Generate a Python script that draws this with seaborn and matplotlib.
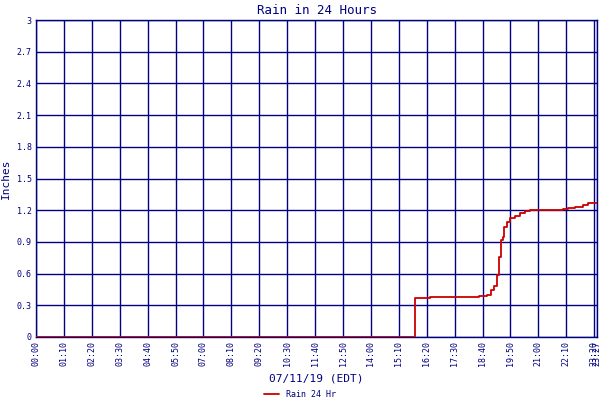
import numpy as np
import pandas as pd
import seaborn as sns
import matplotlib.pyplot as plt

# rain total: minutes after midnight, inches
minutes = [0, 943, 950, 989, 1112, 1131, 1142, 1148, 1157, 1160, 1167, 1170,
           1175, 1181, 1189, 1202, 1214, 1227, 1239, 1322, 1335, 1352, 1372,
           1385, 1407]
rain = [0.0, 0.0, 0.366, 0.375, 0.388, 0.397, 0.445, 0.486, 0.587, 0.76,
        0.918, 0.95, 1.044, 1.091, 1.123, 1.145, 1.17, 1.195, 1.205, 1.215,
        1.225, 1.235, 1.245, 1.265, 1.265]

x_ticks = list(range(0, 1401, 70)) + [1407]
x_labels = ["%02d:%02d" % (m // 60, m % 60) for m in x_ticks]
y_ticks = [0, 0.3, 0.6, 0.9, 1.2, 1.5, 1.8, 2.1, 2.4, 2.7, 3]
y_labels = ["0", "0.3", "0.6", "0.9", "1.2", "1.5", "1.8", "2.1", "2.4", "2.7", "3"]

df = pd.DataFrame({"minute": minutes, "rain": rain})

navy = "#000080"
sns.set_style("white")
plt.rcParams['font.family'] = ['DejaVu Sans Mono']

fig = plt.figure(figsize=(6, 4), dpi=100)
ax = fig.add_axes([0.06, 0.1575, 0.935, 0.7925])

sns.lineplot(data=df, x="minute", y="rain", ax=ax, color="#cc0000",
             linewidth=1.3, drawstyle="steps-post", label="Rain 24 Hr", zorder=3)

ax.set_xlim(0, 1407)
ax.set_ylim(0, 3)
ax.set_xticks(x_ticks)
ax.set_xticklabels(x_labels, rotation=90, fontsize=6, color=navy)
ax.set_yticks(y_ticks)
ax.set_yticklabels(y_labels, fontsize=6, color=navy)
ax.tick_params(length=0, pad=3)
ax.grid(True, color=navy, linewidth=1.0)
for s in ax.spines.values():
    s.set_color(navy)
    s.set_linewidth(1.0)

ax.set_title("Rain in 24 Hours", fontsize=9, color=navy, pad=4)
ax.set_xlabel("07/11/19 (EDT)", fontsize=8, color=navy, labelpad=5)
ax.set_ylabel("Inches", fontsize=8, color=navy, labelpad=4)

leg = ax.legend(loc="center", bbox_to_anchor=(0.47, -0.18), frameon=False,
                fontsize=6, handlelength=1.8, borderpad=0)
for t in leg.get_texts():
    t.set_color(navy)

fig.savefig("out.png", dpi=100)
